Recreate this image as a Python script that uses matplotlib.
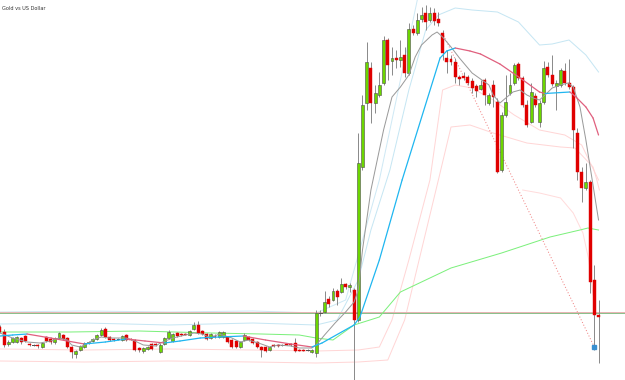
import matplotlib
matplotlib.use("Agg")
import matplotlib.pyplot as plt
from matplotlib.patches import Rectangle

# ---- candle data (price units) ----
opens = [53,48,36,38,38,42,44,36,35,35, 33,43,41,38,42,45,42,33,26,30,
         33,37,39,41,45,51,43,41,41,40, 45,41,40,32,29,31,36,36,28,36,
         42,39,47,46,46,45,51,55,49,46, 42,44,43,43,43,40,39,33,40,43,
         41,38,33,33,30,35,35,35,36,36, 37,30,30,30,28,27,67,68,81,80,
         89,88,96,93,90,60,213,277,312,277, 285,297,340,319,322,320,325,307,351,347,
         361,367,360,367,361,347,322,321,318,303, 304,303,299,294,291,300,277,295,278,210,
         265,287,297,316,302,275,258,284,258,278, 313,305,294,295,309,297,293,247,208,192,
         198,100,65]
highs = [55,51,40,43,44,43,45,37,36,36, 38,44,43,43,48,46,43,34,30,35,
         38,39,42,46,52,53,44,42,42,45, 46,42,41,33,33,34,37,37,37,43,
         50,47,48,47,47,50,58,59,50,47, 47,46,49,49,44,41,40,39,47,44,
         42,39,34,34,34,36,36,36,37,37, 42,31,31,31,31,70,70,89,84,92,
         91,102,97,97,92,247,285,338,318,295, 308,344,342,333,330,340,333,357,355,367,
         373,375,373,372,368,350,330,325,322,305, 308,305,302,296,300,302,287,300,282,268,
         305,307,317,318,304,280,297,287,280,319, 318,325,300,312,317,321,295,252,213,217,
         200,115,80]
lows = [47,33,34,37,37,36,38,34,34,32, 32,38,36,36,41,40,32,22,22,29,
        32,36,38,40,44,42,39,39,40,39, 39,40,29,28,27,30,30,34,27,35,
        41,38,43,44,45,44,50,46,45,40, 41,42,42,42,37,32,32,32,39,39,
        36,32,23,28,29,33,33,34,35,34, 28,29,29,29,27,23,64,67,73,79,
        75,87,91,88,-5,58,210,270,257,267, 283,295,300,305,312,313,303,305,345,345,
        358,350,358,355,354,320,307,315,297,295, 300,295,287,283,290,275,275,273,207,208,
        263,285,295,300,273,253,257,273,253,276, 303,294,270,293,295,291,232,200,178,190,
        87,30,17]
closes = [48,35,38,42,43,38,39,35,35,34, 37,39,38,42,47,41,33,28,29,34,
          37,38,41,45,50,43,40,40,41,44, 40,40,30,30,32,33,31,35,35,42,
          48,46,44,45,45,49,55,47,46,41, 46,43,48,48,38,33,33,38,45,40,
          37,33,30,29,33,34,34,35,35,35, 29,29,29,30,30,67,67,78,76,89,
          83,96,93,95,60,217,275,318,277,287, 295,340,315,322,320,323,307,351,347,360,
          365,358,367,359,357,327,318,318,303,301, 302,297,292,289,295,285,285,283,208,265,
          278,295,315,302,275,255,288,275,277,312, 305,296,297,310,297,293,250,208,192,198,
          98,65,63]

# ---- indicator lines (bar index, price) ----
gray_x = [0,3,6.4,9.5,12,14,16,17,19,21, 22,24,26,27,30,32,34,37,38,41,
          43,46,48,50,52,55,57,59,62,64, 66,69,71,74,75,77,79.5,82,84,85,
          86,88,91,93,95,97,98.5,100,102.5,103.7, 105,107,109,112,116,117,118.6,120,121.7,123.4,
          125,126.5,128,129.8,131,133,134.8,136,137.6,139, 140.5,142]
gray_v = [47,42,38,37,39,42,40,35,33,37, 40,43,42,42,42,39,35,34,37,42,
          44,47,46,42,46,42,38,40,36,33, 35,34,32,32,35,45,57,68,78,90,
          130,190,250,283,293,305,323,335,345,348, 343,333,322,307,295,285,277,282,288,290,
          285,282,280,287,292,295,297,293,273,240, 200,160]

trend_x = [0,3,6.4,12,20,25,30,34.4,39,42.7, 47.5,52,57.7,63,69,74,76.4,84,85.4,90,
           95.4,104.4,106,108,111.5,114,118.6,123.4,128,129.3, 135.2,136.4,139,140.7,142]
trend_v = [44,45,46,42,36,38,41,39,37,39, 42,43,44,40,36,33,37,55,63,120,
           200,322,329,332,329,326,316,302,288,286.5, 288,284,273,262,245]

green_x = [0,16.6,33,50,62,71,75,79,84,90,95,107,119,130.5,137.6,139.5,142]
green_v = [48,48,49,47,46,45,42,40,55,63,88,112,127,143,150,152,150]

ub1_x = [0,20,40,60,75,80,85,88,92.5,97,101,104,108,112,118,123,128,131,135,139,142]
ub1_v = [56,57,55,57,55,60,100,150,210,290,350,365,372,370,368,358,335,336,340,325,308]
ub2_x = [0,20,40,60,75,82,86,90,95,99]
ub2_v = [68,69,68,69,67,80,140,200,300,380]
lb1_x = [0,20,40,60,75,85,90,93,97,102,105,108,112,117,122,128,134,138,142]
lb1_v = [31,30,31,30,29,30,33,60,120,200,290,295,292,280,265,250,245,235,200]
lb2_x = [0,20,40,60,75,85,92,96,100,104,107,111.5,117,125,133,136.4,140.7,141.6,142.2]
lb2_v = [19,18,19,18,17,18,20,60,130,200,253,255,247,237,233,232,213,200,190]
lb3_x = [124,128,133,136,138.3,139.7,140.7]
lb3_v = [190,187,182,167,147,120,85]

dot_x = [105, 141]
dot_v = [347, 33]

hline_pink = 68.3
hline_green = 66.7

fig = plt.figure(figsize=(6.25, 3.8), dpi=100)
ax = fig.add_axes([0, 0, 1, 1])
ax.set_xlim(0, 625 / 4.215)
ax.set_ylim(0, 380)
ax.axis('off')

lw = 0.72
# bands
ax.plot(ub2_x, ub2_v, color='#cfe9f5', lw=lw, zorder=1)
ax.plot(ub1_x, ub1_v, color='#c6e6f3', lw=lw, zorder=1)
ax.plot(lb1_x, lb1_v, color='#ffd6d6', lw=lw, zorder=1)
ax.plot(lb2_x, lb2_v, color='#ffd6d6', lw=lw, zorder=1)
ax.plot(lb3_x, lb3_v, color='#ffdcdc', lw=lw, zorder=1)
# horizontal levels
ax.axhline(hline_pink, color='#e8b4b4', lw=lw, zorder=1)
ax.axhline(hline_green, color='#8cc08c', lw=lw, zorder=1)
# green long MA
ax.plot(green_x, green_v, color='#7cf07c', lw=lw, zorder=2)
# dotted trend line
ax.plot(dot_x, dot_v, color='#f08080', lw=lw, ls=(0, (1, 2)), zorder=2)

# candles
bw = 0.7
for i in range(len(opens)):
    o, h, l, c = opens[i], highs[i], lows[i], closes[i]
    ax.plot([i, i], [l, h], color='#8c8c8c', lw=lw, zorder=3, solid_capstyle='butt')
    lo, hi = min(o, c), max(o, c)
    if hi - lo < 0.8:
        ax.plot([i - bw / 2, i + bw / 2], [o, o], color='#555555', lw=lw, zorder=4)
        continue
    if c > o:
        rect = Rectangle((i - bw / 2, lo), bw, hi - lo, facecolor='#6cd600',
                         edgecolor='#4d4d4d', lw=0.4, zorder=4)
    else:
        rect = Rectangle((i - bw / 2, lo), bw, hi - lo, facecolor='#e00000',
                         edgecolor='#e00000', lw=0.3, zorder=4)
    ax.add_patch(rect)

# gray fast MA
ax.plot(gray_x, gray_v, color='#9a9a9a', lw=lw, zorder=5)
# trend MA: cyan when rising, pink when falling
for j in range(len(trend_x) - 1):
    col = '#1fb6f0' if trend_v[j + 1] >= trend_v[j] else '#e0607e'
    ax.plot(trend_x[j:j + 2], trend_v[j:j + 2], color=col, lw=0.9, zorder=5,
            solid_capstyle='round')

ax.plot([dot_x[1]], [dot_v[1]], marker='s', ms=2.2, color='#3a8fd0', zorder=6)

ax.text(0.004, 0.985, 'Gold vs US Dollar', transform=ax.transAxes, fontsize=3.6,
        color='#333333', va='top', ha='left')

fig.savefig('out.png', dpi=100)
